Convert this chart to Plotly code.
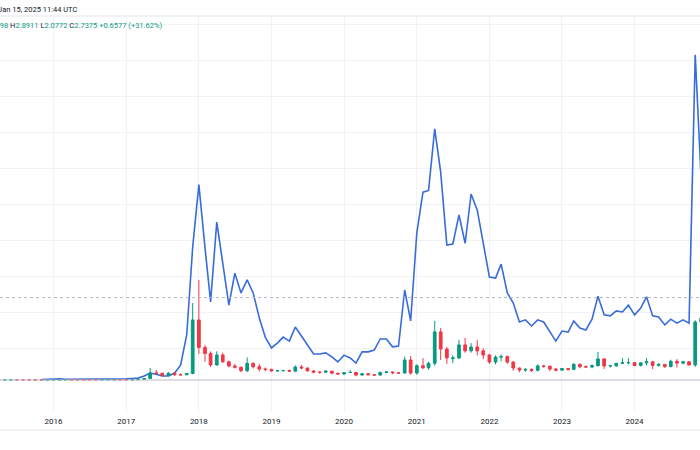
import pandas as pd
import plotly.graph_objects as go

# ---- data (monthly bars, Apr 2015 .. Dec 2024) ----
months = pd.date_range("2015-04-01", periods=117, freq="MS")

opens = [.008,.007,.008,.009,.008,.007,.007,.005,.004,
         .006,.006,.008,.008,.007,.007,.006,.006,.006,.008,.008,.008,
         .006,.006,.007,.022,.06,.27,.26,.17,.26,.20,.20,.25,
         2.31,1.25,1.02,.58,.96,.70,.54,.49,.36,.64,.51,.42,
         .41,.35,.36,.36,.34,.50,.46,.35,.30,.30,.34,.26,
         .23,.29,.29,.19,.24,.20,.19,.29,.31,.28,.27,.77,
         .27,.55,.47,.64,1.85,1.19,.82,.85,1.35,1.12,1.27,1.12,
         .96,.69,.88,.90,.69,.46,.38,.41,.37,.54,.53,.42,
         .38,.44,.41,.60,.51,.50,.55,.81,.54,.55,.64,.66,
         .67,.56,.66,.70,.56,.60,.52,.72,.65,.70,.58,2.23]
highs = [.009,.008,.010,.010,.009,.008,.007,.006,.007,
         .007,.009,.009,.008,.007,.007,.007,.007,.009,.009,.009,.008,
         .007,.008,.030,.060,.46,.39,.28,.30,.29,.25,.26,2.96,
         3.85,1.35,1.10,1.10,1.05,.75,.62,.52,.87,.68,.62,.48,
         .43,.38,.39,.40,.56,.57,.48,.37,.33,.37,.35,.27,
         .30,.38,.31,.26,.26,.22,.32,.35,.32,.29,.90,.92,
         .60,.84,.70,2.27,2.00,1.27,.95,1.54,1.62,1.42,1.54,1.22,
         1.00,.95,.98,.94,.72,.48,.45,.44,.60,.58,.56,.46,
         .46,.46,.65,.64,.56,.60,1.08,.84,.58,.66,.84,.84,
         .68,.68,.84,.72,.64,.62,.78,.80,.74,.72,2.30,3.30]
lows = [.007,.006,.008,.007,.007,.006,.005,.004,.004,
        .005,.006,.007,.007,.006,.006,.005,.006,.006,.007,.007,.006,
        .006,.006,.007,.020,.05,.23,.14,.15,.16,.18,.19,.22,
        1.00,.70,.50,.55,.66,.48,.44,.30,.30,.44,.33,.33,
        .32,.33,.34,.32,.33,.42,.32,.26,.24,.28,.22,.19,
        .20,.27,.14,.17,.19,.17,.17,.26,.22,.23,.25,.20,
        .20,.42,.40,.55,.77,.62,.65,.80,1.05,1.05,.95,.80,
        .62,.60,.72,.62,.35,.30,.31,.31,.33,.47,.34,.33,
        .34,.36,.38,.45,.47,.45,.52,.42,.48,.50,.62,.60,
        .52,.52,.56,.42,.52,.46,.48,.48,.60,.55,.50,1.95]
closes = [.007,.008,.009,.008,.007,.007,.005,.004,.006,
          .006,.008,.008,.007,.007,.006,.006,.006,.008,.008,.008,.006,
          .006,.007,.022,.055,.27,.26,.17,.26,.20,.20,.25,2.31,
          1.25,1.02,.58,.96,.70,.54,.49,.36,.64,.51,.42,.41,
          .35,.36,.36,.34,.50,.46,.35,.30,.30,.34,.26,.23,
          .28,.29,.19,.24,.20,.19,.29,.31,.28,.27,.77,.27,
          .55,.47,.64,1.85,1.19,.85,.85,1.35,1.12,1.27,1.12,.96,
          .69,.88,.90,.69,.46,.38,.41,.37,.54,.53,.42,.38,
          .44,.41,.60,.51,.50,.55,.81,.54,.55,.64,.66,.67,
          .56,.66,.70,.56,.60,.52,.72,.65,.70,.58,2.23,2.38]

# comparison line (own scale)
overlay = [None,None,None,None,None,None,None,.14,.15,
           .15,.16,.15,.15,.14,.15,.15,.16,.16,.15,.15,.15,
           .16,.17,.18,.24,.32,.29,.24,.24,.32,.54,1.38,3.83,
           5.56,3.80,2.30,4.52,3.41,2.21,3.10,2.55,2.91,2.55,1.85,1.32,
           1.02,1.16,1.32,1.21,1.60,1.35,1.10,.85,.85,.88,.77,.63,
           .82,.74,.60,.91,.91,.96,1.27,1.27,1.05,1.07,2.63,1.77,
           4.22,5.35,5.40,7.11,5.91,3.88,3.91,4.72,3.93,5.30,4.85,3.93,
           2.99,2.96,3.35,2.55,2.27,1.74,1.80,1.63,1.80,1.74,1.46,1.21,
           1.49,1.46,1.77,1.57,1.52,1.82,2.46,1.94,1.91,2.05,2.02,2.21,
           1.94,2.13,2.44,1.91,1.88,1.66,1.82,1.71,1.80,1.71,9.17,5.69]

year_ticks = pd.date_range("2016-01-01", periods=9, freq="YS")
year_labels = [str(d.year) for d in year_ticks]

last_line_value = 2.42

GREEN = "#089981"
RED = "#F23645"
BLUE = "#386CDB"
GRID = "#F0F2F6"

fig = go.Figure()
fig.add_trace(go.Candlestick(
    x=months, open=opens, high=highs, low=lows, close=closes,
    increasing=dict(line=dict(color=GREEN, width=1), fillcolor=GREEN),
    decreasing=dict(line=dict(color=RED, width=1), fillcolor=RED),
    yaxis="y2", hoverinfo="skip", showlegend=False,
))
fig.add_trace(go.Scatter(
    x=months, y=overlay, mode="lines", line=dict(color=BLUE, width=1.6),
    yaxis="y", hoverinfo="skip", showlegend=False, connectgaps=False,
))

FONT = "Roboto, Arial, sans-serif"
fig.update_layout(
    width=700, height=450,
    margin=dict(l=0, r=0, t=16, b=38),
    paper_bgcolor="white", plot_bgcolor="white",
    showlegend=False,
    font=dict(family=FONT, size=8, color="#131722"),
    xaxis=dict(
        type="date", range=["2015-04-07", "2024-11-25"],
        tickvals=year_ticks, ticktext=year_labels,
        showgrid=True, gridcolor=GRID, gridwidth=1,
        ticks="", ticklabelstandoff=3,
        tickfont=dict(family=FONT, size=8, color="#131722"),
        showline=False, zeroline=False,
        rangeslider=dict(visible=False),
    ),
    yaxis=dict(
        range=[-0.762, 10.25], tickvals=list(range(1, 11)),
        showticklabels=False, showgrid=True, gridcolor=GRID,
        zeroline=False, showline=False,
    ),
    yaxis2=dict(
        range=[-1.231, 14.0], overlaying="y", side="right",
        visible=False, showgrid=False, zeroline=False,
    ),
    shapes=[
        dict(type="line", xref="paper", yref="paper", x0=0, x1=1, y0=1, y1=1,
             line=dict(color="#E3E6EC", width=1)),
        dict(type="line", xref="paper", yref="paper", x0=0, x1=1,
             y0=-18/396, y1=-18/396, line=dict(color="#E3E6EC", width=1)),
        dict(type="line", xref="paper", yref="y2", x0=0, x1=1, y0=0, y1=0,
             line=dict(color="#B8BCC6", width=1)),
        dict(type="line", xref="paper", yref="y", x0=0, x1=1,
             y0=last_line_value, y1=last_line_value,
             line=dict(color="#B4B9C0", width=1, dash="dot")),
    ],
    annotations=[
        dict(xref="paper", yref="paper", x=0, y=1, xanchor="left", yanchor="bottom",
             xshift=-4, yshift=0, showarrow=False,
             text="Jan 15, 2025 11:44 UTC",
             font=dict(family=FONT, size=7.5, color="#131722")),
        dict(xref="paper", yref="paper", x=0, y=1, xanchor="left", yanchor="middle",
             xshift=-22.5, yshift=-9, showarrow=False,
             text=("<span style='color:#131722'>O</span>2.0798 "
                   "<span style='color:#131722'>H</span>2.8911 "
                   "<span style='color:#131722'>L</span>2.0772 "
                   "<span style='color:#131722'>C</span>2.7375 "
                   "+0.6577 (+31.62%)"),
             font=dict(family=FONT, size=7.5, color=GREEN)),
    ],
)

fig.write_html("out.html", config={"displayModeBar": False},
               post_script="document.body.style.margin='0';document.body.style.overflow='hidden';")
